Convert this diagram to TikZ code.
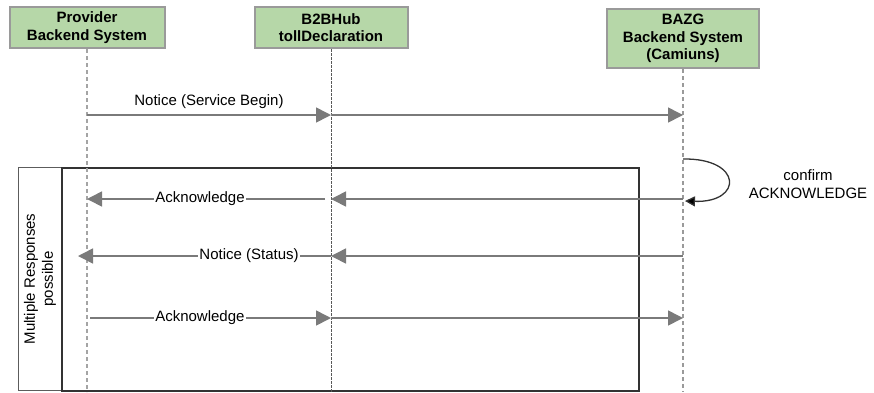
\documentclass[tikz,border=0pt]{standalone}
\usepackage{fontspec}
\setmainfont{Liberation Sans}
\usetikzlibrary{arrows.meta}
\definecolor{actfill}{HTML}{B6D7A8}
\definecolor{actdraw}{HTML}{9A9A9A}
\definecolor{msgcol}{HTML}{7A7A7A}
\definecolor{framecol}{HTML}{333333}
\tikzset{
  actor/.style={draw=actdraw, line width=2pt, fill=actfill, align=center, inner sep=2pt,
    font=\fontsize{15}{17.5}\selectfont\bfseries},
  lifeline/.style={draw=#1, line width=1.3pt, dash pattern=on 4pt off 3pt},
  msg/.style={draw=msgcol, line width=1.6pt, -{Triangle[length=15pt,width=15pt]}},
  plain/.style={draw=msgcol, line width=1.6pt},
  lbl/.style={font=\fontsize{15}{17.5}\selectfont, fill=white, inner sep=1.5pt},
  looparrow/.style={draw=framecol, line width=1.3pt, -{Triangle[length=10pt,width=10pt,fill=black]}}
}
\begin{document}
\begin{tikzpicture}[x=1pt,y=-1pt]
\useasboundingbox (0,0) rectangle (874,392);

% frame
\node[draw=framecol!80, line width=1pt, minimum width=44pt, minimum height=223pt] (pane) at (40,279) {};
\node[draw=framecol, line width=2pt, minimum width=577pt, minimum height=223pt] (frame) at (350.5,279) {};
\node[rotate=90, align=center, font=\fontsize{15}{18}\selectfont] (ptxt) at (40,279) {Multiple Responses\\possible};

% actors
\node[actor, minimum width=155pt, minimum height=41pt] (p) at (87,27.5) {Provider\\Backend System};
\node[actor, minimum width=153pt, minimum height=41pt] (h) at (331,27.5) {B2BHub\\tollDeclaration};
\node[actor, minimum width=152pt, minimum height=59pt] (b) at (683,38.5) {BAZG\\Backend System\\(Camiuns)};

% lifeline ends
\coordinate (pe) at (87,392);
\coordinate (he) at (331,392);
\coordinate (be) at (683,392);
\draw[lifeline=actdraw!90] (p.south) -- (pe);
\draw[draw=black!65, line width=0.9pt, dash pattern=on 3pt off 1pt] (h.south) -- (he);
\draw[lifeline=actdraw] (b.south) -- (be);

% message points
\coordinate (p1) at (87,115);  \coordinate (h1) at (331,115); \coordinate (b1) at (683,115);
\coordinate (p2) at (87,199);  \coordinate (h2) at (331,199); \coordinate (h2l) at (325,199); \coordinate (b2) at (683,199);
\coordinate (p3) at (78,256);  \coordinate (h3) at (331,256); \coordinate (b3) at (683,256);
\coordinate (p4) at (90,318);  \coordinate (h4) at (331,318); \coordinate (b4) at (683,318);
\coordinate (l0) at (683,159); \coordinate (l1) at (685,201);

% messages
\draw[msg] (p1) -- node[pos=0.5, above=4pt, lbl, fill=none] {Notice (Service Begin)} (h1);
\draw[msg] (h1) -- (b1);

\draw[msg] (b2) -- (h2);
\draw[msg] (h2l) -- node[pos=0.525, lbl] {Acknowledge} (p2);

\draw[msg] (b3) -- (h3);
\draw[msg] (h3) -- node[pos=0.324, lbl] {Notice (Status)} (p3);

\draw[msg] (p4) -- node[pos=0.456, lbl] {Acknowledge} (h4);
\draw[msg] (h4) -- (b4);

% self loop
\draw[looparrow] (l0) .. controls (743,158) and (743,203) .. (l1);
\node[align=center, font=\fontsize{15}{17.5}\selectfont] (conf) at (808,184) {confirm\\ACKNOWLEDGE};
\end{tikzpicture}
\end{document}
